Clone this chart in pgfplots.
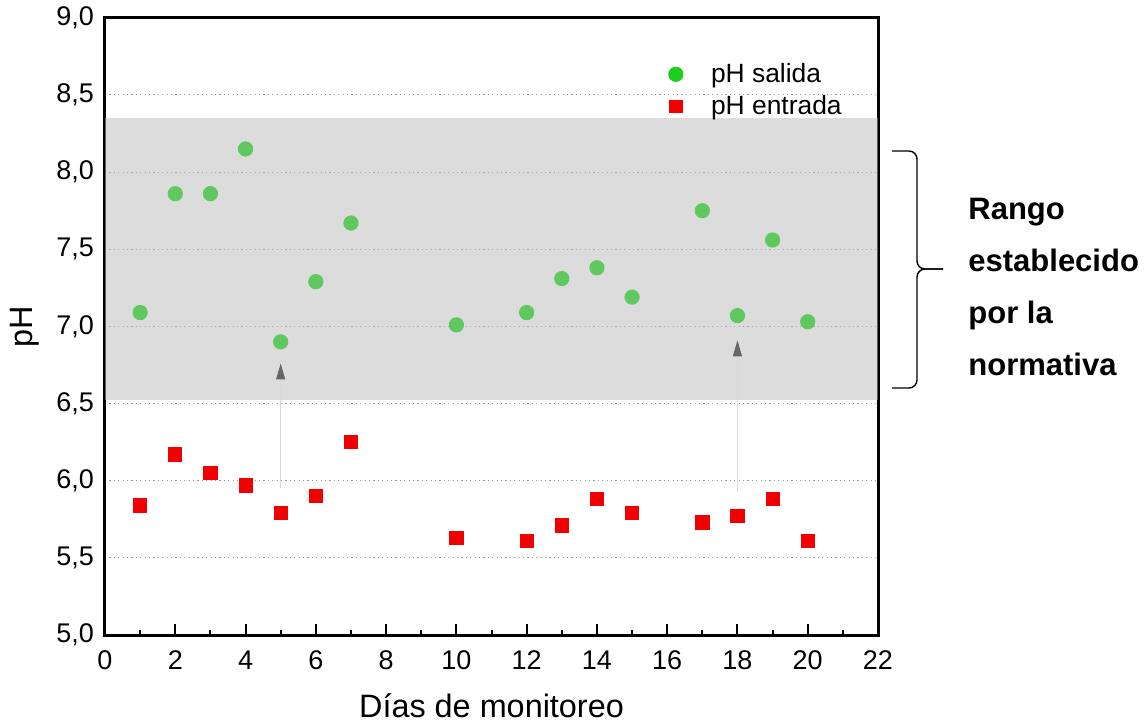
\documentclass[border=0pt]{standalone}
\usepackage{fontspec}
\setmainfont{Liberation Sans}
\usepackage{pgfplots}
\pgfplotsset{compat=1.18}
\usetikzlibrary{arrows.meta}
\definecolor{ptgreen}{RGB}{95,200,95}
\definecolor{leggreen}{RGB}{30,205,30}
\definecolor{ptred}{RGB}{240,0,0}
\definecolor{bandgray}{RGB}{185,185,185}
\begin{document}
\begin{tikzpicture}
\path (-52.5pt,-44pt) rectangle (520pt,317pt);
\begin{axis}[
  at={(0,0)}, anchor=south west,
  scale only axis, width=386.5pt, height=308.6pt,
  xmin=0, xmax=22, ymin=5, ymax=9,
  xtick={0,2,...,22}, minor xtick={1,3,...,21},
  ytick={5,5.5,...,9},
  xtick pos=bottom, tick align=inside,
  major tick length=5.3pt, minor tick length=2.4pt,
  every tick/.style={black, line width=1pt},
  ytick style={draw=none},
  axis line style={line width=1.5pt},
  ymajorgrids,
  grid style={gray!80, line width=0.5pt, dash pattern=on 0.6pt off 1.6pt},
  yticklabel style={xshift=-2pt},
  y tick label style={/pgf/number format/.cd, fixed, fixed zerofill, precision=1, use comma},
  xticklabel style={yshift=-4.5pt},
  ticklabel style={font=\fontsize{13.5}{16}\selectfont},
  /pgf/number format/assume math mode=true,
  xlabel={Días de monitoreo}, ylabel={pH},
  label style={font=\fontsize{16.2}{19}\selectfont},
  xlabel style={at={(axis description cs:0.5,0)}, yshift=-41pt, anchor=base},
  ylabel style={at={(axis description cs:-0.1035,0.5)}, anchor=center},
  legend style={at={(axis cs:15.86,8.76)}, anchor=north west, draw=none, fill=none,
    font=\fontsize{13.2}{16}\selectfont, row sep=1pt,
    /tikz/every odd column/.append style={column sep=12pt}},
  legend cell align=left,
]
\addplot[draw=none, fill=bandgray, fill opacity=0.5, forget plot]
  coordinates {(0,6.52) (22,6.52) (22,8.35) (0,8.35)} -- cycle;
\addplot[gray!30, line width=0.5pt, -{Triangle[length=8pt,width=4.5pt,color=black!60]}, forget plot]
  coordinates {(5,5.95) (5,6.76)};
\addplot[gray!30, line width=0.5pt, -{Triangle[length=8pt,width=4.5pt,color=black!60]}, forget plot]
  coordinates {(18,5.93) (18,6.91)};
\addplot[only marks, mark=*, mark size=3.6pt, color=ptgreen, forget plot]
  coordinates {(1,7.09)(2,7.86)(3,7.86)(4,8.15)(5,6.90)(6,7.29)(7,7.67)(10,7.01)(12,7.09)(13,7.31)(14,7.38)(15,7.19)(17,7.75)(18,7.07)(19,7.56)(20,7.03)};
\addplot[only marks, mark=square*, mark size=3.3pt, color=ptred, forget plot]
  coordinates {(1,5.84)(2,6.17)(3,6.05)(4,5.97)(5,5.79)(6,5.90)(7,6.25)(10,5.63)(12,5.61)(13,5.71)(14,5.88)(15,5.79)(17,5.73)(18,5.77)(19,5.88)(20,5.61)};
\addlegendimage{only marks, mark=*, mark size=3.6pt, color=leggreen}
\addlegendentry{pH salida}
\addlegendimage{only marks, mark=square*, mark size=3.2pt, color=ptred}
\addlegendentry{pH entrada}
\end{axis}
\draw[rounded corners=4pt, line width=0.7pt] (393.5pt,242pt) -- (406pt,242pt) -- (406pt,183pt) -- (419pt,183pt);
\draw[rounded corners=4pt, line width=0.7pt] (419pt,183pt) -- (406pt,183pt) -- (406pt,123.5pt) -- (393.5pt,123.5pt);
\begin{scope}[every node/.style={anchor=base west, inner sep=0pt, font=\bfseries\fontsize{15.5}{18}\selectfont}]
\node at (431.5pt,208pt) {Rango};
\node at (431.5pt,182pt) {establecido};
\node at (431.5pt,156pt) {por la};
\node at (431.5pt,130pt) {normativa};
\end{scope}
\end{tikzpicture}
\end{document}
